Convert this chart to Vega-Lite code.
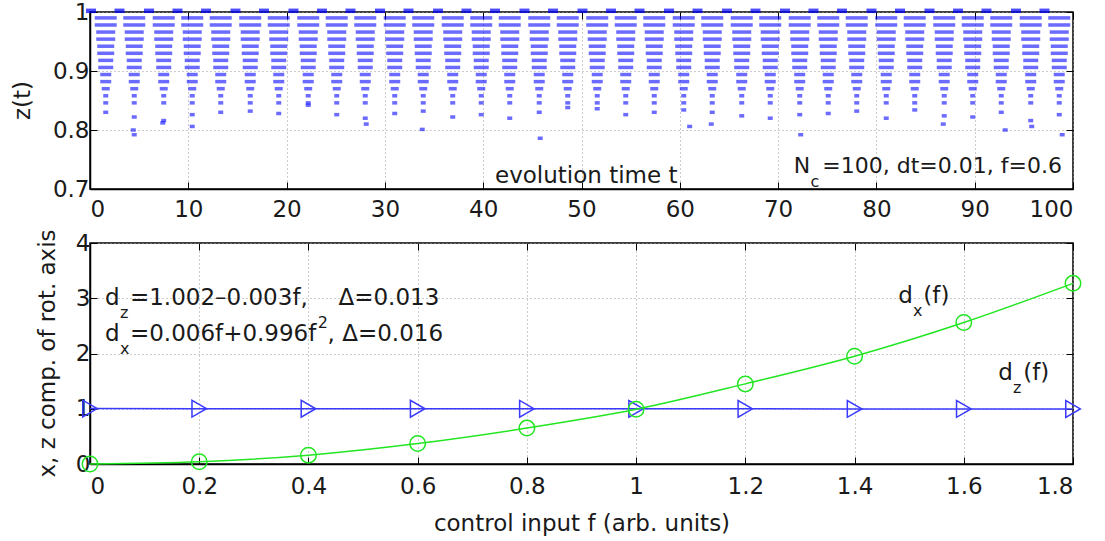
{
"$schema":"https://vega.github.io/schema/vega-lite/v6.json",
"background":"white",
"padding":{"left":10,"top":0,"right":5,"bottom":0},
"spacing":6,
"config":{"font":"DejaVu Sans","view":{"stroke":"#000","strokeWidth":1.5},
"axis":{"labelFont":"DejaVu Sans","labelFontSize":23,"labelColor":"#1a1a1a","titleFont":"DejaVu Sans","titleFontSize":23,"titleFontWeight":"normal","titleColor":"#1a1a1a","domainColor":"#000","domainWidth":1.5,"tickColor":"#000","tickWidth":1,"gridColor":"#999","gridDash":[1,3],"gridWidth":1,"labelAngle":0},
"text":{"font":"DejaVu Sans","fontSize":23,"color":"#1a1a1a"}},
"datasets":{
"peaks":[{"t":0.1,"z":1.002},{"t":3.0,"z":1.002},{"t":6.0,"z":1.002},{"t":8.9,"z":1.002},{"t":11.8,"z":1.002},{"t":14.8,"z":1.002},{"t":17.7,"z":1.002},{"t":20.7,"z":1.002},{"t":23.6,"z":1.002},{"t":26.5,"z":1.002},{"t":29.5,"z":1.002},{"t":32.4,"z":1.002},{"t":35.4,"z":1.002},{"t":38.3,"z":1.002},{"t":41.2,"z":1.002},{"t":44.2,"z":1.002},{"t":47.1,"z":1.002},{"t":50.1,"z":1.002},{"t":53.0,"z":1.002},{"t":55.9,"z":1.002},{"t":58.9,"z":1.002},{"t":61.8,"z":1.002},{"t":64.8,"z":1.002},{"t":67.7,"z":1.002},{"t":70.7,"z":1.002},{"t":73.6,"z":1.002},{"t":76.5,"z":1.002},{"t":79.5,"z":1.002},{"t":82.4,"z":1.002},{"t":85.4,"z":1.002},{"t":88.3,"z":1.002},{"t":91.2,"z":1.002},{"t":94.2,"z":1.002},{"t":97.1,"z":1.002}],
"dots":[
{"t":1.6,"z":0.99},{"t":1.6,"z":0.978},{"t":1.6,"z":0.966},{"t":1.6,"z":0.954},{"t":1.6,"z":0.942},{"t":1.6,"z":0.93},{"t":1.6,"z":0.918},{"t":1.6,"z":0.906},{"t":1.6,"z":0.894},{"t":1.6,"z":0.882},{"t":1.6,"z":0.87},{"t":1.6,"z":0.858},{"t":1.6,"z":0.846},{"t":1.6,"z":0.83},
{"t":4.5,"z":0.99},{"t":4.5,"z":0.978},{"t":4.5,"z":0.966},{"t":4.5,"z":0.954},{"t":4.5,"z":0.942},{"t":4.5,"z":0.93},{"t":4.5,"z":0.918},{"t":4.5,"z":0.906},{"t":4.5,"z":0.894},{"t":4.5,"z":0.882},{"t":4.5,"z":0.87},{"t":4.5,"z":0.858},{"t":4.5,"z":0.846},{"t":4.5,"z":0.822},
{"t":7.5,"z":0.99},{"t":7.5,"z":0.978},{"t":7.5,"z":0.966},{"t":7.5,"z":0.954},{"t":7.5,"z":0.942},{"t":7.5,"z":0.93},{"t":7.5,"z":0.918},{"t":7.5,"z":0.906},{"t":7.5,"z":0.894},{"t":7.5,"z":0.882},{"t":7.5,"z":0.87},{"t":7.5,"z":0.858},{"t":7.5,"z":0.846},{"t":7.5,"z":0.816},
{"t":10.4,"z":0.99},{"t":10.4,"z":0.978},{"t":10.4,"z":0.966},{"t":10.4,"z":0.954},{"t":10.4,"z":0.942},{"t":10.4,"z":0.93},{"t":10.4,"z":0.918},{"t":10.4,"z":0.906},{"t":10.4,"z":0.894},{"t":10.4,"z":0.882},{"t":10.4,"z":0.87},{"t":10.4,"z":0.858},{"t":10.4,"z":0.846},{"t":10.4,"z":0.826},
{"t":13.3,"z":0.99},{"t":13.3,"z":0.978},{"t":13.3,"z":0.966},{"t":13.3,"z":0.954},{"t":13.3,"z":0.942},{"t":13.3,"z":0.93},{"t":13.3,"z":0.918},{"t":13.3,"z":0.906},{"t":13.3,"z":0.894},{"t":13.3,"z":0.882},{"t":13.3,"z":0.87},{"t":13.3,"z":0.858},{"t":13.3,"z":0.846},{"t":13.3,"z":0.83},
{"t":16.3,"z":0.99},{"t":16.3,"z":0.978},{"t":16.3,"z":0.966},{"t":16.3,"z":0.954},{"t":16.3,"z":0.942},{"t":16.3,"z":0.93},{"t":16.3,"z":0.918},{"t":16.3,"z":0.906},{"t":16.3,"z":0.894},{"t":16.3,"z":0.882},{"t":16.3,"z":0.87},{"t":16.3,"z":0.858},{"t":16.3,"z":0.846},{"t":16.3,"z":0.832},
{"t":19.2,"z":0.99},{"t":19.2,"z":0.978},{"t":19.2,"z":0.966},{"t":19.2,"z":0.954},{"t":19.2,"z":0.942},{"t":19.2,"z":0.93},{"t":19.2,"z":0.918},{"t":19.2,"z":0.906},{"t":19.2,"z":0.894},{"t":19.2,"z":0.882},{"t":19.2,"z":0.87},{"t":19.2,"z":0.858},{"t":19.2,"z":0.846},{"t":19.2,"z":0.828},
{"t":22.2,"z":0.99},{"t":22.2,"z":0.978},{"t":22.2,"z":0.966},{"t":22.2,"z":0.954},{"t":22.2,"z":0.942},{"t":22.2,"z":0.93},{"t":22.2,"z":0.918},{"t":22.2,"z":0.906},{"t":22.2,"z":0.894},{"t":22.2,"z":0.882},{"t":22.2,"z":0.87},{"t":22.2,"z":0.858},{"t":22.2,"z":0.846},{"t":22.2,"z":0.842},
{"t":25.1,"z":0.99},{"t":25.1,"z":0.978},{"t":25.1,"z":0.966},{"t":25.1,"z":0.954},{"t":25.1,"z":0.942},{"t":25.1,"z":0.93},{"t":25.1,"z":0.918},{"t":25.1,"z":0.906},{"t":25.1,"z":0.894},{"t":25.1,"z":0.882},{"t":25.1,"z":0.87},{"t":25.1,"z":0.858},{"t":25.1,"z":0.846},{"t":25.1,"z":0.826},
{"t":28.0,"z":0.99},{"t":28.0,"z":0.978},{"t":28.0,"z":0.966},{"t":28.0,"z":0.954},{"t":28.0,"z":0.942},{"t":28.0,"z":0.93},{"t":28.0,"z":0.918},{"t":28.0,"z":0.906},{"t":28.0,"z":0.894},{"t":28.0,"z":0.882},{"t":28.0,"z":0.87},{"t":28.0,"z":0.858},{"t":28.0,"z":0.846},{"t":28.0,"z":0.82},
{"t":31.0,"z":0.99},{"t":31.0,"z":0.978},{"t":31.0,"z":0.966},{"t":31.0,"z":0.954},{"t":31.0,"z":0.942},{"t":31.0,"z":0.93},{"t":31.0,"z":0.918},{"t":31.0,"z":0.906},{"t":31.0,"z":0.894},{"t":31.0,"z":0.882},{"t":31.0,"z":0.87},{"t":31.0,"z":0.858},{"t":31.0,"z":0.846},{"t":31.0,"z":0.828},
{"t":33.9,"z":0.99},{"t":33.9,"z":0.978},{"t":33.9,"z":0.966},{"t":33.9,"z":0.954},{"t":33.9,"z":0.942},{"t":33.9,"z":0.93},{"t":33.9,"z":0.918},{"t":33.9,"z":0.906},{"t":33.9,"z":0.894},{"t":33.9,"z":0.882},{"t":33.9,"z":0.87},{"t":33.9,"z":0.858},{"t":33.9,"z":0.846},{"t":33.9,"z":0.832},
{"t":36.9,"z":0.99},{"t":36.9,"z":0.978},{"t":36.9,"z":0.966},{"t":36.9,"z":0.954},{"t":36.9,"z":0.942},{"t":36.9,"z":0.93},{"t":36.9,"z":0.918},{"t":36.9,"z":0.906},{"t":36.9,"z":0.894},{"t":36.9,"z":0.882},{"t":36.9,"z":0.87},{"t":36.9,"z":0.858},{"t":36.9,"z":0.846},{"t":36.9,"z":0.822},
{"t":39.8,"z":0.99},{"t":39.8,"z":0.978},{"t":39.8,"z":0.966},{"t":39.8,"z":0.954},{"t":39.8,"z":0.942},{"t":39.8,"z":0.93},{"t":39.8,"z":0.918},{"t":39.8,"z":0.906},{"t":39.8,"z":0.894},{"t":39.8,"z":0.882},{"t":39.8,"z":0.87},{"t":39.8,"z":0.858},{"t":39.8,"z":0.846},{"t":39.8,"z":0.826},
{"t":42.7,"z":0.99},{"t":42.7,"z":0.978},{"t":42.7,"z":0.966},{"t":42.7,"z":0.954},{"t":42.7,"z":0.942},{"t":42.7,"z":0.93},{"t":42.7,"z":0.918},{"t":42.7,"z":0.906},{"t":42.7,"z":0.894},{"t":42.7,"z":0.882},{"t":42.7,"z":0.87},{"t":42.7,"z":0.858},{"t":42.7,"z":0.846},{"t":42.7,"z":0.82},
{"t":45.7,"z":0.99},{"t":45.7,"z":0.978},{"t":45.7,"z":0.966},{"t":45.7,"z":0.954},{"t":45.7,"z":0.942},{"t":45.7,"z":0.93},{"t":45.7,"z":0.918},{"t":45.7,"z":0.906},{"t":45.7,"z":0.894},{"t":45.7,"z":0.882},{"t":45.7,"z":0.87},{"t":45.7,"z":0.858},{"t":45.7,"z":0.846},{"t":45.7,"z":0.83},
{"t":48.6,"z":0.99},{"t":48.6,"z":0.978},{"t":48.6,"z":0.966},{"t":48.6,"z":0.954},{"t":48.6,"z":0.942},{"t":48.6,"z":0.93},{"t":48.6,"z":0.918},{"t":48.6,"z":0.906},{"t":48.6,"z":0.894},{"t":48.6,"z":0.882},{"t":48.6,"z":0.87},{"t":48.6,"z":0.858},{"t":48.6,"z":0.846},{"t":48.6,"z":0.838},
{"t":51.6,"z":0.99},{"t":51.6,"z":0.978},{"t":51.6,"z":0.966},{"t":51.6,"z":0.954},{"t":51.6,"z":0.942},{"t":51.6,"z":0.93},{"t":51.6,"z":0.918},{"t":51.6,"z":0.906},{"t":51.6,"z":0.894},{"t":51.6,"z":0.882},{"t":51.6,"z":0.87},{"t":51.6,"z":0.858},{"t":51.6,"z":0.846},{"t":51.6,"z":0.836},
{"t":54.5,"z":0.99},{"t":54.5,"z":0.978},{"t":54.5,"z":0.966},{"t":54.5,"z":0.954},{"t":54.5,"z":0.942},{"t":54.5,"z":0.93},{"t":54.5,"z":0.918},{"t":54.5,"z":0.906},{"t":54.5,"z":0.894},{"t":54.5,"z":0.882},{"t":54.5,"z":0.87},{"t":54.5,"z":0.858},{"t":54.5,"z":0.846},{"t":54.5,"z":0.826},
{"t":57.4,"z":0.99},{"t":57.4,"z":0.978},{"t":57.4,"z":0.966},{"t":57.4,"z":0.954},{"t":57.4,"z":0.942},{"t":57.4,"z":0.93},{"t":57.4,"z":0.918},{"t":57.4,"z":0.906},{"t":57.4,"z":0.894},{"t":57.4,"z":0.882},{"t":57.4,"z":0.87},{"t":57.4,"z":0.858},{"t":57.4,"z":0.846},{"t":57.4,"z":0.83},
{"t":60.4,"z":0.99},{"t":60.4,"z":0.978},{"t":60.4,"z":0.966},{"t":60.4,"z":0.954},{"t":60.4,"z":0.942},{"t":60.4,"z":0.93},{"t":60.4,"z":0.918},{"t":60.4,"z":0.906},{"t":60.4,"z":0.894},{"t":60.4,"z":0.882},{"t":60.4,"z":0.87},{"t":60.4,"z":0.858},{"t":60.4,"z":0.846},{"t":60.4,"z":0.834},
{"t":63.3,"z":0.99},{"t":63.3,"z":0.978},{"t":63.3,"z":0.966},{"t":63.3,"z":0.954},{"t":63.3,"z":0.942},{"t":63.3,"z":0.93},{"t":63.3,"z":0.918},{"t":63.3,"z":0.906},{"t":63.3,"z":0.894},{"t":63.3,"z":0.882},{"t":63.3,"z":0.87},{"t":63.3,"z":0.858},{"t":63.3,"z":0.846},{"t":63.3,"z":0.83},
{"t":66.3,"z":0.99},{"t":66.3,"z":0.978},{"t":66.3,"z":0.966},{"t":66.3,"z":0.954},{"t":66.3,"z":0.942},{"t":66.3,"z":0.93},{"t":66.3,"z":0.918},{"t":66.3,"z":0.906},{"t":66.3,"z":0.894},{"t":66.3,"z":0.882},{"t":66.3,"z":0.87},{"t":66.3,"z":0.858},{"t":66.3,"z":0.846},{"t":66.3,"z":0.824},
{"t":69.2,"z":0.99},{"t":69.2,"z":0.978},{"t":69.2,"z":0.966},{"t":69.2,"z":0.954},{"t":69.2,"z":0.942},{"t":69.2,"z":0.93},{"t":69.2,"z":0.918},{"t":69.2,"z":0.906},{"t":69.2,"z":0.894},{"t":69.2,"z":0.882},{"t":69.2,"z":0.87},{"t":69.2,"z":0.858},{"t":69.2,"z":0.846},{"t":69.2,"z":0.82},
{"t":72.2,"z":0.99},{"t":72.2,"z":0.978},{"t":72.2,"z":0.966},{"t":72.2,"z":0.954},{"t":72.2,"z":0.942},{"t":72.2,"z":0.93},{"t":72.2,"z":0.918},{"t":72.2,"z":0.906},{"t":72.2,"z":0.894},{"t":72.2,"z":0.882},{"t":72.2,"z":0.87},{"t":72.2,"z":0.858},{"t":72.2,"z":0.846},{"t":72.2,"z":0.826},
{"t":75.1,"z":0.99},{"t":75.1,"z":0.978},{"t":75.1,"z":0.966},{"t":75.1,"z":0.954},{"t":75.1,"z":0.942},{"t":75.1,"z":0.93},{"t":75.1,"z":0.918},{"t":75.1,"z":0.906},{"t":75.1,"z":0.894},{"t":75.1,"z":0.882},{"t":75.1,"z":0.87},{"t":75.1,"z":0.858},{"t":75.1,"z":0.846},{"t":75.1,"z":0.828},
{"t":78.0,"z":0.99},{"t":78.0,"z":0.978},{"t":78.0,"z":0.966},{"t":78.0,"z":0.954},{"t":78.0,"z":0.942},{"t":78.0,"z":0.93},{"t":78.0,"z":0.918},{"t":78.0,"z":0.906},{"t":78.0,"z":0.894},{"t":78.0,"z":0.882},{"t":78.0,"z":0.87},{"t":78.0,"z":0.858},{"t":78.0,"z":0.846},{"t":78.0,"z":0.832},
{"t":81.0,"z":0.99},{"t":81.0,"z":0.978},{"t":81.0,"z":0.966},{"t":81.0,"z":0.954},{"t":81.0,"z":0.942},{"t":81.0,"z":0.93},{"t":81.0,"z":0.918},{"t":81.0,"z":0.906},{"t":81.0,"z":0.894},{"t":81.0,"z":0.882},{"t":81.0,"z":0.87},{"t":81.0,"z":0.858},{"t":81.0,"z":0.846},{"t":81.0,"z":0.82},
{"t":83.9,"z":0.99},{"t":83.9,"z":0.978},{"t":83.9,"z":0.966},{"t":83.9,"z":0.954},{"t":83.9,"z":0.942},{"t":83.9,"z":0.93},{"t":83.9,"z":0.918},{"t":83.9,"z":0.906},{"t":83.9,"z":0.894},{"t":83.9,"z":0.882},{"t":83.9,"z":0.87},{"t":83.9,"z":0.858},{"t":83.9,"z":0.846},{"t":83.9,"z":0.834},
{"t":86.9,"z":0.99},{"t":86.9,"z":0.978},{"t":86.9,"z":0.966},{"t":86.9,"z":0.954},{"t":86.9,"z":0.942},{"t":86.9,"z":0.93},{"t":86.9,"z":0.918},{"t":86.9,"z":0.906},{"t":86.9,"z":0.894},{"t":86.9,"z":0.882},{"t":86.9,"z":0.87},{"t":86.9,"z":0.858},{"t":86.9,"z":0.846},{"t":86.9,"z":0.824},
{"t":89.8,"z":0.99},{"t":89.8,"z":0.978},{"t":89.8,"z":0.966},{"t":89.8,"z":0.954},{"t":89.8,"z":0.942},{"t":89.8,"z":0.93},{"t":89.8,"z":0.918},{"t":89.8,"z":0.906},{"t":89.8,"z":0.894},{"t":89.8,"z":0.882},{"t":89.8,"z":0.87},{"t":89.8,"z":0.858},{"t":89.8,"z":0.846},{"t":89.8,"z":0.822},
{"t":92.7,"z":0.99},{"t":92.7,"z":0.978},{"t":92.7,"z":0.966},{"t":92.7,"z":0.954},{"t":92.7,"z":0.942},{"t":92.7,"z":0.93},{"t":92.7,"z":0.918},{"t":92.7,"z":0.906},{"t":92.7,"z":0.894},{"t":92.7,"z":0.882},{"t":92.7,"z":0.87},{"t":92.7,"z":0.858},{"t":92.7,"z":0.846},{"t":92.7,"z":0.83},
{"t":95.7,"z":0.99},{"t":95.7,"z":0.978},{"t":95.7,"z":0.966},{"t":95.7,"z":0.954},{"t":95.7,"z":0.942},{"t":95.7,"z":0.93},{"t":95.7,"z":0.918},{"t":95.7,"z":0.906},{"t":95.7,"z":0.894},{"t":95.7,"z":0.882},{"t":95.7,"z":0.87},{"t":95.7,"z":0.858},{"t":95.7,"z":0.846},{"t":95.7,"z":0.816},
{"t":98.6,"z":0.99},{"t":98.6,"z":0.978},{"t":98.6,"z":0.966},{"t":98.6,"z":0.954},{"t":98.6,"z":0.942},{"t":98.6,"z":0.93},{"t":98.6,"z":0.918},{"t":98.6,"z":0.906},{"t":98.6,"z":0.894},{"t":98.6,"z":0.882},{"t":98.6,"z":0.87},{"t":98.6,"z":0.858},{"t":98.6,"z":0.846},{"t":98.6,"z":0.826},
{"t":4.4,"z":0.8},{"t":4.5,"z":0.792},{"t":33.8,"z":0.801},{"t":45.8,"z":0.786},{"t":72.3,"z":0.792},{"t":86.8,"z":0.81},{"t":93.1,"z":0.8},{"t":95.8,"z":0.806},{"t":98.9,"z":0.792},{"t":7.4,"z":0.812},{"t":10.4,"z":0.806},{"t":28.1,"z":0.81},{"t":61.0,"z":0.806},{"t":63.2,"z":0.81}
],
"dz":[{"f":0,"v":1.003},{"f":0.2,"v":1.001},{"f":0.4,"v":1.0},{"f":0.6,"v":1.0},{"f":0.8,"v":0.999},{"f":1.0,"v":0.998},{"f":1.2,"v":0.998},{"f":1.4,"v":0.997},{"f":1.6,"v":0.997},{"f":1.8,"v":0.996}],
"dx":[{"f":0,"v":0.0},{"f":0.2,"v":0.04},{"f":0.4,"v":0.16},{"f":0.6,"v":0.37},{"f":0.8,"v":0.65},{"f":1.0,"v":0.99},{"f":1.2,"v":1.45},{"f":1.4,"v":1.95},{"f":1.6,"v":2.56},{"f":1.8,"v":3.27}]
},
"vconcat":[
{
"width":983,"height":177,
"resolve":{"axis":{"x":"independent","y":"independent"}},
"layer":[
{"data":{"name":"dots"},"transform":[{"filter":"datum.z>=0.975"}],
"mark":{"type":"point","shape":"M-1,-0.16L1,-0.16L1,0.16L-1,0.16Z","size":484,"filled":true,"color":"#0000ff","opacity":0.58,"strokeWidth":0},
"encoding":{
"x":{"field":"t","type":"quantitative","scale":{"domain":[0,100],"nice":false},"axis":{"values":[0,10,20,30,40,50,60,70,80,90,100],"format":"d","tickSize":-7,"labelPadding":16,"grid":true,"title":null}},
"y":{"field":"z","type":"quantitative","scale":{"domain":[0.7,1],"nice":false,"zero":false},"axis":{"values":[0.7,0.8,0.9,1],"format":"~g","tickSize":-7,"labelPadding":8,"grid":true,"title":"z(t)","titleX":-68,"titleY":88,"titleBaseline":"middle","titleAlign":"center","titleAngle":-90}}}},
{"data":{"name":"dots"},"transform":[{"filter":"datum.z>=0.95 && datum.z<0.975"}],
"mark":{"type":"point","shape":"M-1,-0.184L1,-0.184L1,0.184L-1,0.184Z","size":361,"filled":true,"color":"#0000ff","opacity":0.58,"strokeWidth":0},
"encoding":{"x":{"field":"t","type":"quantitative","scale":{"domain":[0,100],"nice":false},"axis":null},"y":{"field":"z","type":"quantitative","scale":{"domain":[0.7,1],"nice":false,"zero":false},"axis":null}}},
{"data":{"name":"dots"},"transform":[{"filter":"datum.z>=0.925 && datum.z<0.95"}],
"mark":{"type":"point","shape":"M-1,-0.206L1,-0.206L1,0.206L-1,0.206Z","size":289,"filled":true,"color":"#0000ff","opacity":0.58,"strokeWidth":0},
"encoding":{"x":{"field":"t","type":"quantitative","scale":{"domain":[0,100],"nice":false},"axis":null},"y":{"field":"z","type":"quantitative","scale":{"domain":[0.7,1],"nice":false,"zero":false},"axis":null}}},
{"data":{"name":"dots"},"transform":[{"filter":"datum.z>=0.9 && datum.z<0.925"}],
"mark":{"type":"point","shape":"M-1,-0.233L1,-0.233L1,0.233L-1,0.233Z","size":225,"filled":true,"color":"#0000ff","opacity":0.58,"strokeWidth":0},
"encoding":{"x":{"field":"t","type":"quantitative","scale":{"domain":[0,100],"nice":false},"axis":null},"y":{"field":"z","type":"quantitative","scale":{"domain":[0.7,1],"nice":false,"zero":false},"axis":null}}},
{"data":{"name":"dots"},"transform":[{"filter":"datum.z>=0.879 && datum.z<0.9"}],
"mark":{"type":"point","shape":"M-1,-0.318L1,-0.318L1,0.318L-1,0.318Z","size":121,"filled":true,"color":"#0000ff","opacity":0.58,"strokeWidth":0},
"encoding":{"x":{"field":"t","type":"quantitative","scale":{"domain":[0,100],"nice":false},"axis":null},"y":{"field":"z","type":"quantitative","scale":{"domain":[0.7,1],"nice":false,"zero":false},"axis":null}}},
{"data":{"name":"dots"},"transform":[{"filter":"datum.z>=0.864 && datum.z<0.879"}],
"mark":{"type":"point","shape":"M-1,-0.44L1,-0.44L1,0.44L-1,0.44Z","size":64,"filled":true,"color":"#0000ff","opacity":0.58,"strokeWidth":0},
"encoding":{"x":{"field":"t","type":"quantitative","scale":{"domain":[0,100],"nice":false},"axis":null},"y":{"field":"z","type":"quantitative","scale":{"domain":[0.7,1],"nice":false,"zero":false},"axis":null}}},
{"data":{"name":"dots"},"transform":[{"filter":"datum.z<0.864"}],
"mark":{"type":"point","shape":"M-1,-0.7L1,-0.7L1,0.7L-1,0.7Z","size":25,"filled":true,"color":"#0000ff","opacity":0.58,"strokeWidth":0},
"encoding":{"x":{"field":"t","type":"quantitative","scale":{"domain":[0,100],"nice":false},"axis":null},"y":{"field":"z","type":"quantitative","scale":{"domain":[0.7,1],"nice":false,"zero":false},"axis":null}}},
{"data":{"name":"peaks"},
"mark":{"type":"point","shape":"M-1,-0.45L1,-0.45L1,0.45L-1,0.45Z","size":100,"filled":true,"color":"#0000ff","opacity":0.7,"strokeWidth":0},
"encoding":{
"x":{"field":"t","type":"quantitative","scale":{"domain":[0,100],"nice":false},"axis":{"orient":"top","values":[0,10,20,30,40,50,60,70,80,90,100],"tickSize":-7,"labels":false,"grid":false,"domain":false,"title":null}},
"y":{"field":"z","type":"quantitative","scale":{"domain":[0.7,1],"nice":false,"zero":false},"axis":{"orient":"right","values":[0.7,0.8,0.9,1],"tickSize":-7,"labels":false,"grid":false,"domain":false,"title":null}}}},
{"data":{"values":[{}]},"mark":{"type":"text","text":"evolution time t","align":"left","baseline":"middle"},
"encoding":{"x":{"datum":41.2,"type":"quantitative","scale":{"domain":[0,100],"nice":false},"axis":null},"y":{"datum":0.722,"type":"quantitative","scale":{"domain":[0.7,1],"nice":false,"zero":false},"axis":null}}},
{"data":{"values":[{}]},"mark":{"type":"text","text":"N","align":"left","baseline":"middle","fontSize":22},
"encoding":{"x":{"datum":71.6,"type":"quantitative","scale":{"domain":[0,100],"nice":false},"axis":null},"y":{"datum":0.739,"type":"quantitative","scale":{"domain":[0.7,1],"nice":false,"zero":false},"axis":null}}},
{"data":{"values":[{}]},"mark":{"type":"text","text":"c","align":"left","baseline":"middle","fontSize":16},
"encoding":{"x":{"datum":73.3,"type":"quantitative","scale":{"domain":[0,100],"nice":false},"axis":null},"y":{"datum":0.712,"type":"quantitative","scale":{"domain":[0.7,1],"nice":false,"zero":false},"axis":null}}},
{"data":{"values":[{}]},"mark":{"type":"text","text":"=100, dt=0.01, f=0.6","align":"left","baseline":"middle","fontSize":22},
"encoding":{"x":{"datum":74.5,"type":"quantitative","scale":{"domain":[0,100],"nice":false},"axis":null},"y":{"datum":0.739,"type":"quantitative","scale":{"domain":[0.7,1],"nice":false,"zero":false},"axis":null}}}
]},
{
"width":983,"height":221,
"resolve":{"axis":{"x":"independent","y":"independent"}},
"layer":[
{"data":{"name":"dz"},
"mark":{"type":"line","color":"#3a3aff","strokeWidth":1.5,"clip":false,"point":{"shape":"triangle-right","filled":false,"size":280,"strokeWidth":1.5,"color":"#3a3aff"}},
"encoding":{
"x":{"field":"f","type":"quantitative","scale":{"domain":[0,1.8],"nice":false},"axis":{"values":[0,0.2,0.4,0.6,0.8,1,1.2,1.4,1.6,1.8],"format":"~g","tickSize":-7,"labelPadding":18,"grid":true,"title":"control input f (arb. units)","titlePadding":14}},
"y":{"field":"v","type":"quantitative","scale":{"domain":[0,4],"nice":false},"axis":{"values":[0,1,2,3,4],"format":"d","tickSize":-7,"labelPadding":7,"grid":true,"title":"x, z comp. of rot. axis","titleX":-43,"titleY":110,"titleBaseline":"middle","titleAlign":"center","titleAngle":-90}}}},
{"data":{"name":"dx"},
"mark":{"type":"line","color":"#22e622","strokeWidth":1.5,"interpolate":"monotone","clip":false,"point":{"shape":"circle","filled":false,"size":240,"strokeWidth":1.5,"color":"#22e622"}},
"encoding":{
"x":{"field":"f","type":"quantitative","scale":{"domain":[0,1.8],"nice":false},"axis":{"orient":"top","values":[0,0.2,0.4,0.6,0.8,1,1.2,1.4,1.6,1.8],"tickSize":-7,"labels":false,"grid":false,"domain":false,"title":null}},
"y":{"field":"v","type":"quantitative","scale":{"domain":[0,4],"nice":false},"axis":{"orient":"right","values":[0,1,2,3,4],"tickSize":-7,"labels":false,"grid":false,"domain":false,"title":null}}}},
{"data":{"values":[{}]},"mark":{"type":"text","text":"d","align":"left","baseline":"middle"},
"encoding":{"x":{"datum":0.0274,"type":"quantitative","scale":{"domain":[0,1.8],"nice":false},"axis":null},"y":{"datum":3.005,"type":"quantitative","scale":{"domain":[0,4],"nice":false},"axis":null}}},
{"data":{"values":[{}]},"mark":{"type":"text","text":"z","align":"left","baseline":"middle","fontSize":16},
"encoding":{"x":{"datum":0.0548,"type":"quantitative","scale":{"domain":[0,1.8],"nice":false},"axis":null},"y":{"datum":2.733,"type":"quantitative","scale":{"domain":[0,4],"nice":false},"axis":null}}},
{"data":{"values":[{}]},"mark":{"type":"text","text":"=1.002–0.003f,","align":"left","baseline":"middle"},
"encoding":{"x":{"datum":0.0731,"type":"quantitative","scale":{"domain":[0,1.8],"nice":false},"axis":null},"y":{"datum":3.005,"type":"quantitative","scale":{"domain":[0,4],"nice":false},"axis":null}}},
{"data":{"values":[{}]},"mark":{"type":"text","text":"Δ=0.013","align":"left","baseline":"middle"},
"encoding":{"x":{"datum":0.455,"type":"quantitative","scale":{"domain":[0,1.8],"nice":false},"axis":null},"y":{"datum":3.005,"type":"quantitative","scale":{"domain":[0,4],"nice":false},"axis":null}}},
{"data":{"values":[{}]},"mark":{"type":"text","text":"d","align":"left","baseline":"middle"},
"encoding":{"x":{"datum":0.0274,"type":"quantitative","scale":{"domain":[0,1.8],"nice":false},"axis":null},"y":{"datum":2.353,"type":"quantitative","scale":{"domain":[0,4],"nice":false},"axis":null}}},
{"data":{"values":[{}]},"mark":{"type":"text","text":"x","align":"left","baseline":"middle","fontSize":16},
"encoding":{"x":{"datum":0.0548,"type":"quantitative","scale":{"domain":[0,1.8],"nice":false},"axis":null},"y":{"datum":2.081,"type":"quantitative","scale":{"domain":[0,4],"nice":false},"axis":null}}},
{"data":{"values":[{}]},"mark":{"type":"text","text":"=0.006f+0.996f","align":"left","baseline":"middle"},
"encoding":{"x":{"datum":0.0731,"type":"quantitative","scale":{"domain":[0,1.8],"nice":false},"axis":null},"y":{"datum":2.353,"type":"quantitative","scale":{"domain":[0,4],"nice":false},"axis":null}}},
{"data":{"values":[{}]},"mark":{"type":"text","text":"2","align":"left","baseline":"middle","fontSize":16},
"encoding":{"x":{"datum":0.417,"type":"quantitative","scale":{"domain":[0,1.8],"nice":false},"axis":null},"y":{"datum":2.552,"type":"quantitative","scale":{"domain":[0,4],"nice":false},"axis":null}}},
{"data":{"values":[{}]},"mark":{"type":"text","text":", Δ=0.016","align":"left","baseline":"middle"},
"encoding":{"x":{"datum":0.435,"type":"quantitative","scale":{"domain":[0,1.8],"nice":false},"axis":null},"y":{"datum":2.353,"type":"quantitative","scale":{"domain":[0,4],"nice":false},"axis":null}}},
{"data":{"values":[{}]},"mark":{"type":"text","text":"d","align":"left","baseline":"middle"},
"encoding":{"x":{"datum":1.48,"type":"quantitative","scale":{"domain":[0,1.8],"nice":false},"axis":null},"y":{"datum":3.041,"type":"quantitative","scale":{"domain":[0,4],"nice":false},"axis":null}}},
{"data":{"values":[{}]},"mark":{"type":"text","text":"x","align":"left","baseline":"middle","fontSize":16},
"encoding":{"x":{"datum":1.507,"type":"quantitative","scale":{"domain":[0,1.8],"nice":false},"axis":null},"y":{"datum":2.77,"type":"quantitative","scale":{"domain":[0,4],"nice":false},"axis":null}}},
{"data":{"values":[{}]},"mark":{"type":"text","text":"(f)","align":"left","baseline":"middle"},
"encoding":{"x":{"datum":1.526,"type":"quantitative","scale":{"domain":[0,1.8],"nice":false},"axis":null},"y":{"datum":3.041,"type":"quantitative","scale":{"domain":[0,4],"nice":false},"axis":null}}},
{"data":{"values":[{}]},"mark":{"type":"text","text":"d","align":"left","baseline":"middle"},
"encoding":{"x":{"datum":1.663,"type":"quantitative","scale":{"domain":[0,1.8],"nice":false},"axis":null},"y":{"datum":1.647,"type":"quantitative","scale":{"domain":[0,4],"nice":false},"axis":null}}},
{"data":{"values":[{}]},"mark":{"type":"text","text":"z","align":"left","baseline":"middle","fontSize":16},
"encoding":{"x":{"datum":1.69,"type":"quantitative","scale":{"domain":[0,1.8],"nice":false},"axis":null},"y":{"datum":1.376,"type":"quantitative","scale":{"domain":[0,4],"nice":false},"axis":null}}},
{"data":{"values":[{}]},"mark":{"type":"text","text":"(f)","align":"left","baseline":"middle"},
"encoding":{"x":{"datum":1.709,"type":"quantitative","scale":{"domain":[0,1.8],"nice":false},"axis":null},"y":{"datum":1.647,"type":"quantitative","scale":{"domain":[0,4],"nice":false},"axis":null}}}
]}
]
}
